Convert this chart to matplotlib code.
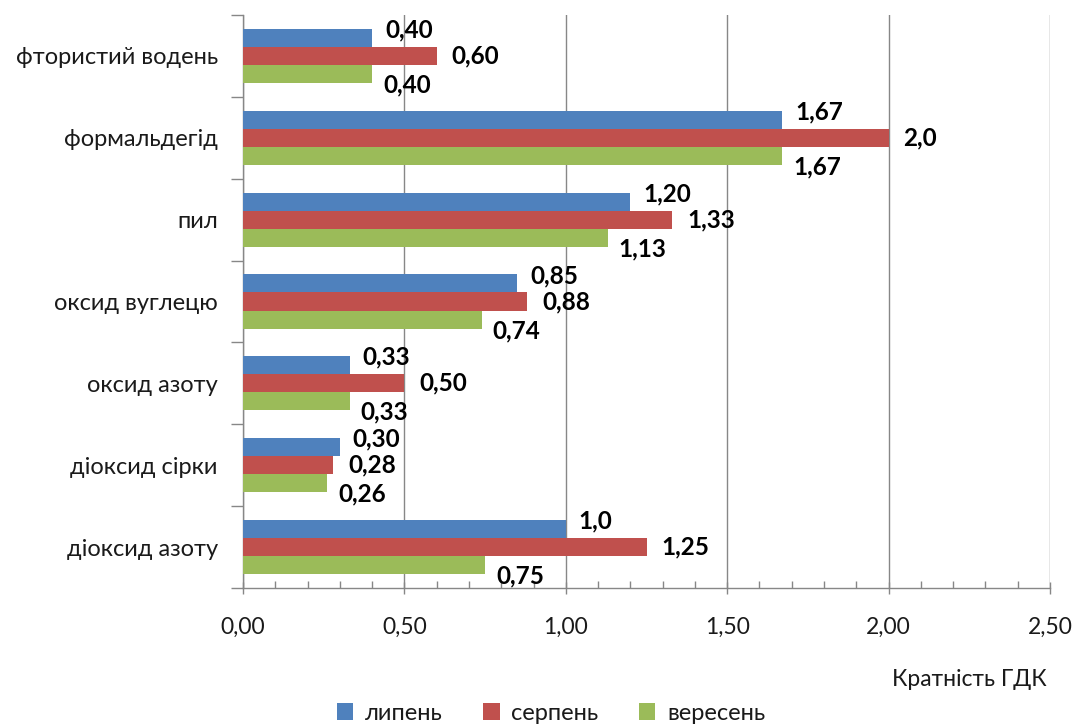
import matplotlib.pyplot as plt
import numpy as np
from matplotlib.ticker import MultipleLocator, FuncFormatter

plt.rcParams['font.family'] = ['Lato', 'DejaVu Sans']

# categories listed top to bottom
substances = ["фтористий водень", "формальдегід", "пил", "оксид вуглецю",
              "оксид азоту", "діоксид сірки", "діоксид азоту"]
months = ["липень", "серпень", "вересень"]

july = [0.40, 1.67, 1.20, 0.85, 0.33, 0.30, 1.0]
august = [0.60, 2.0, 1.33, 0.88, 0.50, 0.28, 1.25]
september = [0.40, 1.67, 1.13, 0.74, 0.33, 0.26, 0.75]

july_labels = ["0,40", "1,67", "1,20", "0,85", "0,33", "0,30", "1,0"]
august_labels = ["0,60", "2,0", "1,33", "0,88", "0,50", "0,28", "1,25"]
september_labels = ["0,40", "1,67", "1,13", "0,74", "0,33", "0,26", "0,75"]

colors = ["#4F81BD", "#C0504D", "#9BBB59"]
grid_c = "#878787"
text_c = "#1a1a1a"

fig = plt.figure(figsize=(10.76, 7.26), dpi=100)
ax = fig.add_axes([243 / 1076, 1 - 588 / 726, 807 / 1076, 573 / 726])

y = np.arange(len(substances))
h = 0.22
series = [july, august, september]
labels = [july_labels, august_labels, september_labels]
# label offsets in pixels (dx, dy) for each month
offsets = [(13, 8), (15, 0), (11, -11)]

for k, (vals, labs) in enumerate(zip(series, labels)):
    pos = y + (k - 1) * h
    ax.barh(pos, vals, height=h, color=colors[k], label=months[k], zorder=3)
    for v, p, t in zip(vals, pos, labs):
        ax.annotate(t, (v, p), xytext=offsets[k], textcoords="offset pixels",
                    ha="left", va="center", fontsize=17.5, fontweight="bold",
                    color="black", zorder=4)

ax.set_xlim(0, 2.5)
ax.set_ylim(len(substances) - 0.5, -0.5)

ax.xaxis.set_major_locator(MultipleLocator(0.5))
ax.xaxis.set_minor_locator(MultipleLocator(0.1))
ax.xaxis.set_major_formatter(FuncFormatter(lambda v, _: f"{v:.2f}".replace(".", ",")))
ax.grid(axis="x", which="major", color=grid_c, linewidth=1, zorder=0)

ax.set_yticks(np.arange(-0.5, len(substances)), labels=[])
ax.set_yticks(y, labels=substances, minor=True)
ax.tick_params(axis="y", which="major", length=9, color=grid_c, width=1)
ax.tick_params(axis="y", which="minor", length=0, pad=18, labelsize=17, labelcolor=text_c)
ax.tick_params(axis="x", which="major", length=8, color=grid_c, width=1, pad=17,
               labelsize=16.5, labelcolor=text_c, direction="inout")
ax.tick_params(axis="x", which="minor", length=5, color=grid_c, width=1, direction="in")

for side in ["top", "right"]:
    ax.spines[side].set_visible(False)
for side in ["left", "bottom"]:
    ax.spines[side].set_color(grid_c)
    ax.spines[side].set_linewidth(1)

fig.text(1047 / 1076, 1 - 680 / 726, "Кратність ГДК", ha="right", va="center",
         fontsize=16.5, color=text_c)

fig.legend(loc="center", bbox_to_anchor=(551 / 1076, 1 - 713 / 726), ncol=3, frameon=False,
           handlelength=0.7, handleheight=0.7, handletextpad=0.5, columnspacing=1.7,
           fontsize=17, labelcolor=text_c, borderpad=0)

fig.savefig("out.png", dpi=100)
